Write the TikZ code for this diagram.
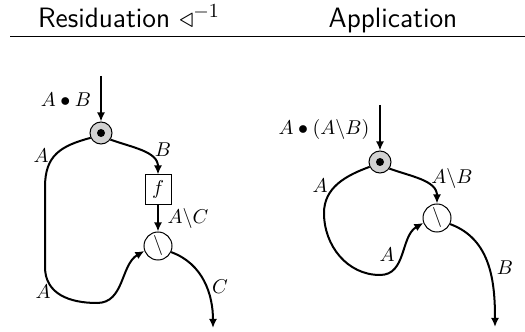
\documentclass[tikz,border=0pt]{standalone}
\usepackage{amsmath,amssymb}
\usetikzlibrary{arrows.meta}
\begin{document}
\begin{tikzpicture}[x=0.5pt,y=0.5pt,
  wire/.style={line width=1pt,-{Latex[length=4.5pt,width=4pt]}},
  prodnode/.style={circle,draw,line width=0.5pt,fill=gray!35,minimum size=11pt,inner sep=0pt},
  resnode/.style={circle,draw,line width=0.5pt,fill=white,minimum size=14pt,inner sep=0pt},
  fbox/.style={draw,line width=0.5pt,minimum width=13pt,minimum height=15pt,inner sep=0pt},
  hd/.style={font=\sffamily\fontsize{14}{17}\selectfont,anchor=base}]
\useasboundingbox (0,0) rectangle (525,332);
% ---- 标题与横线 ----
\node[hd] (tL) at (129,304) {Residuation $\triangleleft^{-1}$};
\node[hd] (tR) at (393,304) {Application};
\coordinate (hl) at (10,295);
\coordinate (hr) at (525,295);
\draw[line width=0.5pt] (hl) -- (hr);
% ---- 左图：残差 ----
\coordinate (inL) at (101,256);
\node[prodnode] (pL) at (101,199) {};
\fill (pL) circle (2pt);
\node[fbox] (fL) at (158,142) {$f$};
\node[resnode] (rL) at (158,86) {$\backslash$};
\coordinate (aL) at (45,145);
\coordinate (bL) at (45,65);
\coordinate (cL) at (97,29);
\coordinate (outL) at (213,4);
\draw[wire] (inL) -- (pL);
\draw[wire] (pL.-35) to[out=-20,in=90] (fL.north);
\draw[wire] (fL) -- (rL);
\draw[wire] (pL.205) to[out=195,in=90,looseness=1.2] (aL) -- (bL)
  to[out=-90,in=180,looseness=1.1] (cL) to[out=0,in=210] (rL.200);
\draw[wire] (rL.-25) to[out=-20,in=90] (outL);
\node (lAB) at (66,232) {$A\bullet B$};
\node (lB) at (163,182) {$B$};
\node (lAC) at (188,113) {$A\backslash C$};
\node (lA1) at (41,176) {$A$};
\node (lA2) at (43,40) {$A$};
\node (lC) at (220,45) {$C$};
% ---- 右图：应用 ----
\coordinate (inR) at (380,227);
\node[prodnode] (pR) at (380,170) {};
\fill (pR) circle (2pt);
\node[resnode] (rR) at (437,114) {$\backslash$};
\coordinate (aR) at (324,119);
\coordinate (cR) at (380,57);
\coordinate (outR) at (495,5);
\draw[wire] (inR) -- (pR);
\draw[wire] (pR.-35) to[out=-20,in=90] (rR.north);
\draw[wire] (pR.205) to[out=200,in=90] (aR)
  to[out=-90,in=180] (cR) to[out=0,in=210] (rR.200);
\draw[wire] (rR.-25) to[out=-20,in=90] (outR);
\node (lAAB) at (324,202) {$A\bullet(A\backslash B)$};
\node (lAB2) at (452,153) {$A\backslash B$};
\node (lA3) at (320,146) {$A$};
\node (lA4) at (387,77) {$A$};
\node (lB2) at (505,64) {$B$};
\end{tikzpicture}
\end{document}
